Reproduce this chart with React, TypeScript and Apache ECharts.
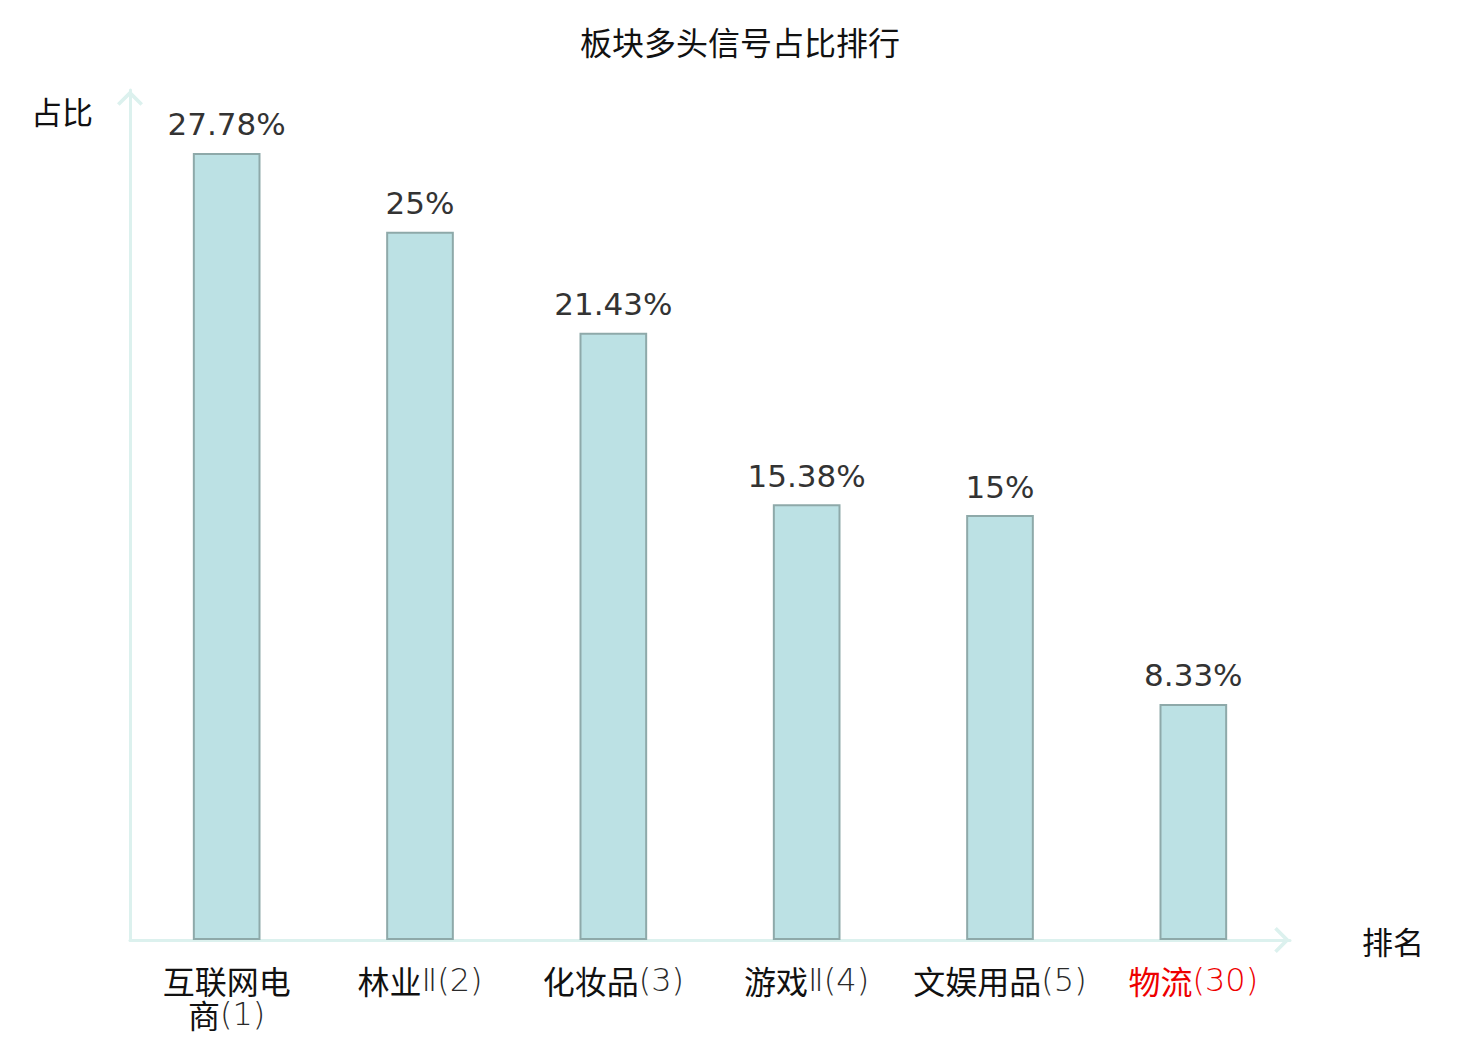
import React, { useEffect, useRef } from "react";
import * as echarts from "echarts";

const titleText = "板块多头信号占比排行";
const categoryNames = ["互联网电商", "林业", "化妆品", "游戏", "文娱用品", "物流"];
const categorySuffixes = ["", "Ⅱ", "", "Ⅱ", "", ""];
const categoryRanks = [1, 2, 3, 4, 5, 30];
const shareValues = [27.78, 25, 21.43, 15.38, 15, 8.33];
const highlightedRanks = [30];
const yAxisName = "占比";
const xAxisName = "排名";

const chevron = "path://M0,20 L20,0 L40,20 L36,24 L20,8 L4,24 Z";

export default function App() {
  const ref = useRef<HTMLDivElement>(null);
  useEffect(() => {
    if (!ref.current) return;
    const chart = echarts.init(ref.current, undefined, { renderer: "svg" });
    const labels = categoryNames.map(
      (n, i) => `${n}${categorySuffixes[i]}(${categoryRanks[i]})`
    );
    const cjk = "Noto Sans CJK SC";
    const thin = "DejaVu Sans";
    chart.setOption({
      animation: false,
      backgroundColor: "#ffffff",
      title: {
        text: titleText,
        left: "center",
        top: 20,
        textStyle: {
          fontSize: 32,
          fontWeight: "normal",
          color: "#111",
          fontFamily: cjk,
        },
      },
      grid: { left: 130, right: 190, top: 90, bottom: 100 },
      xAxis: {
        type: "category",
        data: labels,
        name: xAxisName,
        nameLocation: "end",
        nameGap: 72,
        nameTextStyle: {
          fontSize: 31,
          color: "#111",
          fontFamily: cjk,
          verticalAlign: "middle",
        },
        axisTick: { show: false },
        axisLine: {
          show: true,
          symbol: ["none", chevron],
          symbolSize: [26, 16],
          symbolOffset: [0, -8],
          lineStyle: { color: "#dcf1ee", width: 3 },
        },
        axisLabel: {
          margin: 23,
          interval: 0,
          formatter: (_v: string, idx: number) => {
            const name = categoryNames[idx];
            const suffix = categorySuffixes[idx];
            const rank = categoryRanks[idx];
            const hl = highlightedRanks.includes(rank);
            const nStyle = hl ? "nameHl" : "name";
            const rStyle = hl ? "rankHl" : "rank";
            const tail = `${suffix}(${rank})`;
            if (name.length > 4) {
              return `{${nStyle}|${name.slice(0, 4)}}\n{${nStyle}|${name.slice(4)}}{${rStyle}|${tail}}`;
            }
            return `{${nStyle}|${name}}{${rStyle}|${tail}}`;
          },
          rich: {
            name: {
              fontSize: 32,
              color: "#111",
              fontFamily: cjk,
              lineHeight: 34,
            },
            rank: {
              fontSize: 32,
              color: "#2a2a2a",
              fontWeight: 200,
              fontFamily: thin,
              lineHeight: 34,
            },
            nameHl: {
              fontSize: 32,
              color: "#ee0000",
              fontFamily: cjk,
              lineHeight: 34,
            },
            rankHl: {
              fontSize: 32,
              color: "#ee0000",
              fontWeight: 200,
              fontFamily: thin,
              lineHeight: 34,
            },
          },
        },
      },
      yAxis: {
        type: "value",
        min: 0,
        max: 30,
        name: yAxisName,
        nameLocation: "end",
        nameGap: -20,
        nameTextStyle: {
          fontSize: 31,
          color: "#111",
          fontFamily: cjk,
          align: "right",
          verticalAlign: "middle",
          padding: [0, 37, 0, 0],
        },
        axisLine: {
          show: true,
          symbol: ["none", chevron],
          symbolSize: [26, 16],
          symbolOffset: [0, -8],
          lineStyle: { color: "#dcf1ee", width: 3 },
        },
        axisTick: { show: false },
        axisLabel: { show: false },
        splitLine: { show: false },
      },
      series: [
        {
          type: "bar",
          data: shareValues,
          barWidth: "35%",
          itemStyle: {
            color: "#bce1e4",
            borderColor: "#8ea9a9",
            borderWidth: 2,
          },
          label: {
            show: true,
            position: "top",
            distance: 13,
            formatter: (p: any) => `${p.value}%`,
            fontSize: 31,
            color: "#333",
            fontFamily: "DejaVu Sans",
          },
        },
      ],
    });
    return () => chart.dispose();
  }, []);
  return (
    <div
      ref={ref}
      style={{ position: "fixed", left: 0, top: 0, width: 1480, height: 1040 }}
    />
  );
}
